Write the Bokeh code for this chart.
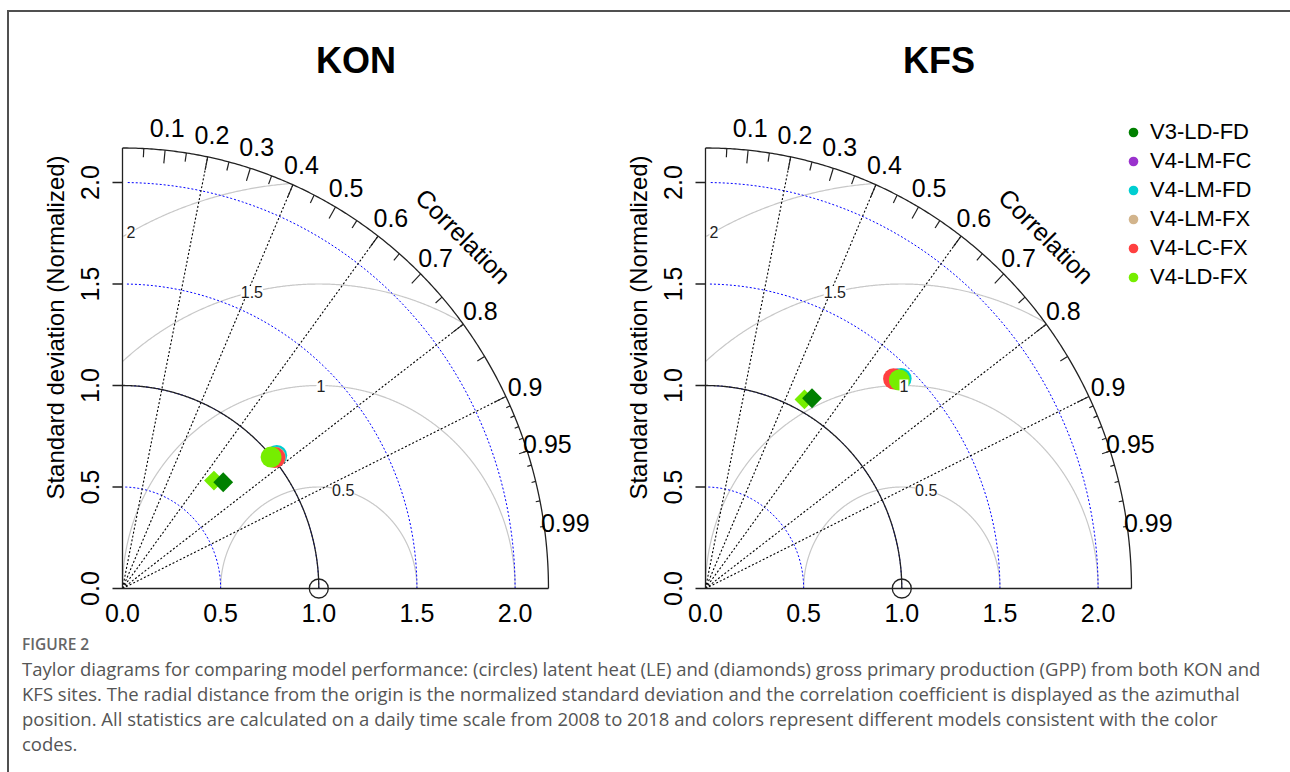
import numpy as np
from bokeh.plotting import figure
from bokeh.models import ColumnDataSource, Legend, LegendItem, LabelSet, Label, Div, Range1d
from bokeh.layouts import row, column
from bokeh.embed import file_html
from bokeh.resources import INLINE
from bokeh.core.properties import value

# ---------------- data ----------------
models = ["V3-LD-FD", "V4-LM-FC", "V4-LM-FD", "V4-LM-FX", "V4-LC-FX", "V4-LD-FX"]
model_colors = ["#008000", "#9A32CD", "#00CED1", "#D2B48C", "#FF4040", "#76EE00"]

# latent heat (circles), drawn in this order
le_models = ["V4-LM-FC", "V4-LM-FD", "V4-LM-FX", "V4-LC-FX", "V4-LD-FX"]
kon_le_cor = [0.768, 0.768, 0.769, 0.769, 0.760]
kon_le_sd = [1.015, 1.023, 1.012, 1.009, 0.996]
kfs_le_cor = [0.687, 0.694, 0.686, 0.680, 0.693]
kfs_le_sd = [1.420, 1.436, 1.415, 1.409, 1.425]

# gross primary production (diamonds), drawn in this order
gpp_models = ["V4-LD-FX", "V3-LD-FD"]
kon_gpp_cor = [0.659, 0.700]
kon_gpp_sd = [0.707, 0.733]
kfs_gpp_cor = [0.476, 0.501]
kfs_gpp_sd = [1.059, 1.083]

# diagram furniture
corr_major = [0.1, 0.2, 0.3, 0.4, 0.5, 0.6, 0.7, 0.8, 0.9]
corr_med = [0.05, 0.15, 0.25, 0.35, 0.45, 0.55, 0.65, 0.75, 0.85, 0.95]
corr_minor = [0.91, 0.92, 0.93, 0.94, 0.95, 0.96, 0.97, 0.98, 0.99]
corr_label_values = [0.1, 0.2, 0.3, 0.4, 0.5, 0.6, 0.7, 0.8, 0.9, 0.95, 0.99]
corr_labels = ["0.1", "0.2", "0.3", "0.4", "0.5", "0.6", "0.7", "0.8", "0.9", "0.95", "0.99"]
corr_lines = [0.2, 0.4, 0.6, 0.8, 0.9]
sd_ticks = [0.0, 0.5, 1.0, 1.5, 2.0]
sd_tick_labels = ["0.0", "0.5", "1.0", "1.5", "2.0"]
sd_arcs = [0.5, 1.0, 1.5, 2.0]
rms_levels = [0.5, 1.0, 1.5, 2.0]
rms_labels = ["0.5", "1", "1.5", "2"]
ref_sd = 1.0
max_sd = 2.17

caption_head = "FIGURE 2"
caption_lines = [
    "Taylor diagrams for comparing model performance: (circles) latent heat (LE) and (diamonds) gross primary production (GPP) from both KON and",
    "KFS sites. The radial distance from the origin is the normalized standard deviation and the correlation coefficient is displayed as the azimuthal",
    "position. All statistics are calculated on a daily time scale from 2008 to 2018 and colors represent different models consistent with the color",
    "codes.",
]

# ---------------- layout constants ----------------
SX, SY = 196.3, 203.0
H = 620
OY = 576
FONT = "Liberation Sans"
color_of = dict(zip(models, model_colors))


def polar(cor, sd):
    cor = np.asarray(cor, float)
    sd = np.asarray(sd, float)
    return sd * cor, sd * np.sqrt(1 - cor ** 2)


def make_panel(site, width, ox, le_cor, le_sd, gpp_cor, gpp_sd, with_legend):
    p = figure(width=width, height=H,
               x_range=Range1d(-ox / SX, (width - ox) / SX),
               y_range=Range1d(-(H - OY) / SY, OY / SY),
               x_axis_type=None, y_axis_type=None,
               output_backend="svg", toolbar_location=None,
               min_border=0, outline_line_color=None,
               background_fill_color="white", border_fill_color="white")

    # centred RMS arcs (grey)
    th = np.linspace(0, np.pi, 800)
    xs, ys = [], []
    for g in rms_levels:
        x = ref_sd + g * np.cos(th)
        y = g * np.sin(th)
        m = (x >= 0) & (x ** 2 + y ** 2 <= max_sd ** 2)
        xs.append(list(x[m]))
        ys.append(list(y[m]))
    p.multi_line(xs, ys, line_color="#C8C8C8", line_width=1.2)

    # SD arcs (blue dotted)
    th2 = np.arange(0, np.pi / 2, 0.03)
    p.multi_line([list(s * np.cos(th2)) for s in sd_arcs], [list(s * np.sin(th2)) for s in sd_arcs],
                 line_color="blue", line_dash="2 2", line_width=1.0)

    # correlation lines (black dotted)
    cl = np.array(corr_lines)
    p.segment(x0=0, y0=0, x1=max_sd * cl, y1=max_sd * np.sqrt(1 - cl ** 2),
              line_color="black", line_dash="2 2", line_width=1.1)

    # reference SD arc and outer arc
    th3 = np.linspace(0, np.pi / 2, 300)
    p.line(ref_sd * np.cos(th3), ref_sd * np.sin(th3), line_color="#222222", line_width=1.3)
    p.line(max_sd * np.cos(th3), max_sd * np.sin(th3), line_color="#222222", line_width=1.3)

    # axis lines
    p.segment(x0=[0, 0], y0=[0, 0], x1=[0, max_sd], y1=[max_sd, 0], line_color="#222222", line_width=1.3)
    st = np.array(sd_ticks)
    p.segment(x0=0 * st, y0=st, x1=0 * st - 10 / SX, y1=st, line_color="#222222", line_width=1.3)

    # ticks on the correlation arc
    for vals, f in ((corr_major, 0.97), (corr_med, 0.98), (corr_minor, 0.99)):
        a = np.arccos(np.array(vals))
        p.segment(x0=max_sd * np.cos(a), y0=max_sd * np.sin(a),
                  x1=f * max_sd * np.cos(a), y1=f * max_sd * np.sin(a),
                  line_color="#222222", line_width=1.2)

    # correlation labels
    a = np.arccos(np.array(corr_label_values))
    p.text(x=1.05 * max_sd * np.cos(a), y=1.05 * max_sd * np.sin(a), text=corr_labels,
           text_font=value(FONT), text_font_size="25px", text_align="center",
           text_baseline="middle", text_color="black")
    p.text(x=[0.8 * max_sd], y=[0.8 * max_sd], text=["Correlation"], angle=-np.pi / 4,
           text_font=value(FONT), text_font_size="25px", text_align="center",
           text_baseline="middle", text_color="black")

    # SD tick labels
    p.text(x=0 * st - 32.5 / SX, y=st, text=sd_tick_labels, angle=np.pi / 2,
           text_font=value(FONT), text_font_size="25px", text_align="center",
           text_baseline="middle", text_color="black")
    p.text(x=st, y=0 * st - 24 / SY, text=sd_tick_labels,
           text_font=value(FONT), text_font_size="25px", text_align="center",
           text_baseline="middle", text_color="black")
    p.text(x=[-67 / SX], y=[(OY - 315) / SY], text=["Standard deviation (Normalized)"], angle=np.pi / 2,
           text_font=value(FONT), text_font_size="24px", text_align="center",
           text_baseline="middle", text_color="black")

    # RMS labels
    lp = np.floor(np.linspace(45, 70, len(rms_levels))) - 1
    la = 0.03 * lp
    rl = np.array(rms_levels)
    lab_src = ColumnDataSource(dict(x=ref_sd + rl * np.cos(la), y=rl * np.sin(la), t=rms_labels))
    p.add_layout(LabelSet(source=lab_src, x="x", y="y", text="t", text_align="center",
                          text_baseline="middle", text_font=value(FONT), text_font_size="16px",
                          text_color="#222222", background_fill_color="white"))

    # title
    p.add_layout(Label(x=1.189, y=(OY - 48) / SY, text=site, text_font=FONT, text_font_size="36px",
                       text_font_style="bold", text_align="center", text_baseline="middle",
                       text_color="black"))

    # GPP diamonds
    gx, gy = polar(gpp_cor, gpp_sd)
    p.scatter(x=gx, y=gy, marker="square", angle=np.pi / 4, size=14,
              fill_color=[color_of[m] for m in gpp_models], line_color=None)
    # LE circles
    lx, ly = polar(le_cor, le_sd)
    p.scatter(x=lx, y=ly, marker="circle", size=21,
              fill_color=[color_of[m] for m in le_models], line_color=None)

    # reference point
    p.scatter(x=[ref_sd], y=[0], marker="circle", size=19, fill_color=None,
              line_color="#222222", line_width=1.3)

    if with_legend:
        items = []
        for m, c in zip(models, model_colors):
            r = p.scatter(x=[np.nan], y=[np.nan], marker="circle", size=9, fill_color=c, line_color=None)
            items.append(LegendItem(label=m, renderers=[r]))
        leg = Legend(items=items, location=(532, 342), padding=0, margin=0,
                     border_line_color=None, background_fill_alpha=0,
                     glyph_width=24, glyph_height=24, label_height=24, spacing=3,
                     label_standoff=5, label_text_font=FONT, label_text_font_size="22px",
                     label_text_color="black")
        p.add_layout(leg)
    return p


p_kon = make_panel("KON", 580, 113, kon_le_cor, kon_le_sd, kon_gpp_cor, kon_gpp_sd, False)
p_kfs = make_panel("KFS", 690, 116, kfs_le_cor, kfs_le_sd, kfs_gpp_cor, kfs_gpp_sd, True)

html = ('<div style="padding:0 0 0 8px;font-family:\'Open Sans\';color:#555;white-space:nowrap;">'
        '<div style="font-size:15.5px;font-weight:600;line-height:14px;color:#666;">' + caption_head + '</div>'
        '<div style="font-size:18.5px;line-height:25px;margin-top:5px;">' + "<br>".join(caption_lines) + '</div></div>')
div = Div(text=html, width=1280, height=139)

layout = column(row(p_kon, p_kfs), div,
                styles={"border-top": "2px solid #505050", "border-left": "2px solid #505050",
                        "margin-left": "7px", "margin-top": "10px"})

open("out.html", "w").write(file_html(layout, INLINE))
